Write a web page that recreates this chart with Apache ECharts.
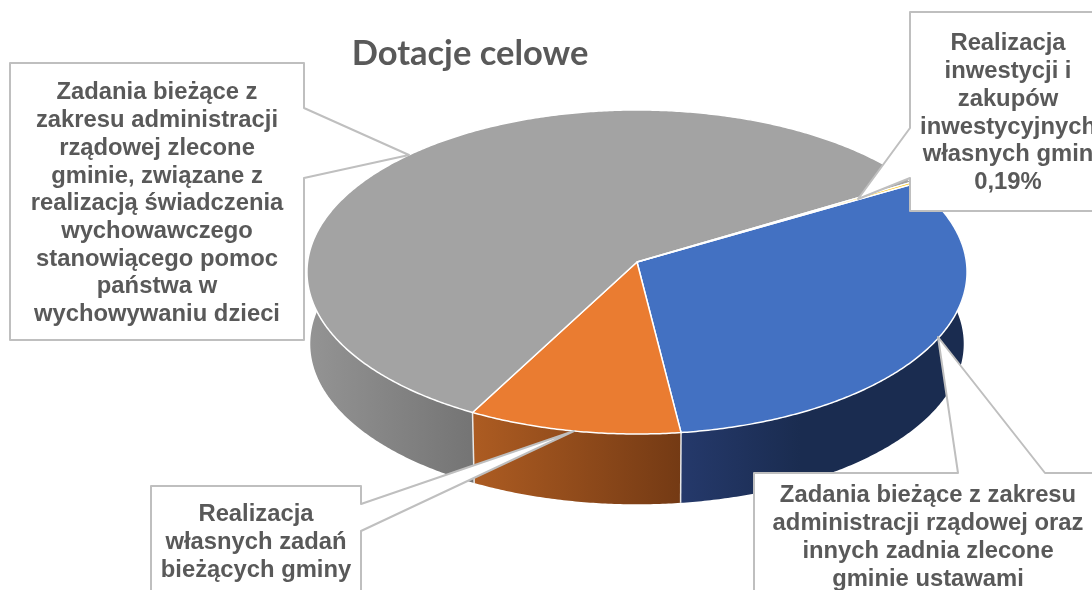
<!DOCTYPE html>
<html><head><meta charset="utf-8">
<style>html,body{margin:0;padding:0;background:#fff}#c{width:1092px;height:590px}</style>
<script src="https://cdn.jsdelivr.net/npm/echarts@6/dist/echarts.min.js"></script>
</head><body><div id="c"></div>
<script>
const titleText = 'Dotacje celowe';
const categories = [
  'Zadania bieżące z zakresu administracji rządowej oraz innych zadnia zlecone gminie ustawami',
  'Realizacja własnych zadań bieżących gminy',
  'Zadania bieżące z zakresu administracji rządowej zlecone gminie, związane z realizacją świadczenia wychowawczego stanowiącego pomoc państwa w wychowywaniu dzieci',
  'Realizacja inwestycji i zakupów inwestycyjnych własnych gmin'
];
const values = [31.33, 9.83, 58.65, 0.19];
const topColors = ['#4371c2', '#ea7c31', '#a3a3a3', '#ffc000'];
const sideColors = [['#25396b', '#1a2c50'], ['#ad5c22', '#743a14'], ['#949494', '#747474'], ['#cc9a00', '#cc9a00']];
const calloutGreyLines = ['Zadania bieżące z', 'zakresu administracji', 'rządowej zlecone', 'gminie, związane z', 'realizacją świadczenia', 'wychowawczego', 'stanowiącego pomoc', 'państwa w', 'wychowywaniu dzieci'];
const calloutYellowLines = ['Realizacja', 'inwestycji i', 'zakupów', 'inwestycyjnych', 'własnych gmin', '0,19%'];
const calloutBlueLines = ['Zadania bieżące z zakresu', 'administracji rządowej oraz', 'innych zadnia zlecone', 'gminie ustawami'];
const calloutOrangeLines = ['Realizacja', 'własnych zadań', 'bieżących gminy'];

const startDeg = -30;
const CX = 637, CY = 262, R = 329.4, A = 161.4, B = 0.0617;
const DEPTH_CY = 334, DEPTH_SCALE = 0.99;
const total = values.reduce((a, b) => a + b, 0);
const rad = d => d * Math.PI / 180;
function project(deg, bottom) {
  const t = Math.sin(rad(deg));
  const k = 1 / (1 - B * t);
  const s = bottom ? DEPTH_SCALE : 1;
  return [CX + s * R * Math.cos(rad(deg)) * k, (bottom ? DEPTH_CY : CY) + s * A * t * k];
}
function sliceRange(i) {
  let before = 0;
  for (let j = 0; j < i; j++) before += values[j];
  const a0 = startDeg + before / total * 360;
  return [a0, a0 + values[i] / total * 360];
}
function arc(a0, a1, bottom) {
  const pts = [], n = Math.max(2, Math.ceil(Math.abs(a1 - a0) * 2));
  for (let i = 0; i <= n; i++) pts.push(project(a0 + (a1 - a0) * i / n, bottom));
  return pts;
}
const FRONT0 = -10, FRONT1 = 190;

function renderSide(params) {
  const i = params.dataIndex;
  const [a0, a1] = sliceRange(i);
  const s = Math.max(a0, FRONT0), e = Math.min(a1, FRONT1);
  if (e <= s) return null;
  const topEdge = arc(s, e, false), botEdge = arc(e, s, true);
  const xs = topEdge.concat(botEdge).map(p => p[0]);
  const children = [{
    type: 'polygon',
    shape: { points: topEdge.concat(botEdge) },
    style: {
      fill: {
        type: 'linear', global: true,
        x: Math.min(...xs), y: 0, x2: i === 0 ? Math.min(...xs) + 120 : Math.max(...xs), y2: 0,
        colorStops: [{ offset: 0, color: sideColors[i][0] }, { offset: 1, color: sideColors[i][1] }]
      }
    }
  }];
  if (a1 > FRONT0 && a1 < FRONT1 && i < values.length - 1) {
    const p = project(a1, false), q = project(a1, true);
    children.push({
      type: 'line', z2: 5,
      shape: { x1: p[0], y1: p[1], x2: q[0], y2: q[1] },
      style: { stroke: '#e8e8e8', lineWidth: 1.5 }
    });
  }
  return { type: 'group', children };
}
function renderTop(params) {
  const i = params.dataIndex;
  const [a0, a1] = sliceRange(i);
  return {
    type: 'polygon',
    shape: { points: [[CX, CY]].concat(arc(a0, a1, false)) },
    style: { fill: topColors[i], stroke: '#ffffff', lineWidth: 1.5, lineJoin: 'round' }
  };
}

const LABEL_FONT = 'bold 23.8px "Liberation Sans", Arial, sans-serif';
function callout(points) {
  return { type: 'polygon', z: 100, shape: { points }, style: { fill: '#ffffff', stroke: '#bfbfbf', lineWidth: 2, lineJoin: 'round' } };
}
function label(lines, x, y) {
  return { type: 'text', z: 101, x, y, style: { text: lines.join('\n'), font: LABEL_FONT, fill: '#595959', align: 'center', verticalAlign: 'top', lineHeight: 27.7 } };
}
const chart = echarts.init(document.getElementById('c'), null, { renderer: 'canvas' });
chart.setOption({
  animation: false,
  backgroundColor: '#ffffff',
  title: {
    text: titleText, left: 470, top: 36, textAlign: 'center', padding: 0,
    textStyle: { fontFamily: 'Lato', fontWeight: 'bold', fontSize: 34.5, color: '#595959' }
  },
  series: [
    { type: 'custom', name: 'sides', coordinateSystem: 'none', silent: true, z: 2, data: values.map((v, i) => ({ name: categories[i], value: v })), renderItem: renderSide },
    { type: 'custom', name: 'tops', coordinateSystem: 'none', silent: true, z: 3, data: values.map((v, i) => ({ name: categories[i], value: v })), renderItem: renderTop }
  ],
  graphic: { elements: [
    callout([[10,63],[304,63],[304,108],[409,155],[304,178],[304,340],[10,340]]),
    callout([[910,12],[1100,12],[1100,211],[910,211],[910,178],[858,199],[910,128]]),
    callout([[754,473],[958,473],[938,337],[1045,473],[1100,473],[1100,600],[754,600]]),
    callout([[151,486],[361,486],[361,504],[574,431],[361,531],[361,600],[151,600]]),
    label(calloutGreyLines, 157, 79),
    label(calloutYellowLines, 1008, 30),
    label(calloutBlueLines, 928, 482),
    label(calloutOrangeLines, 256, 501)
  ]}
});
</script></body></html>
